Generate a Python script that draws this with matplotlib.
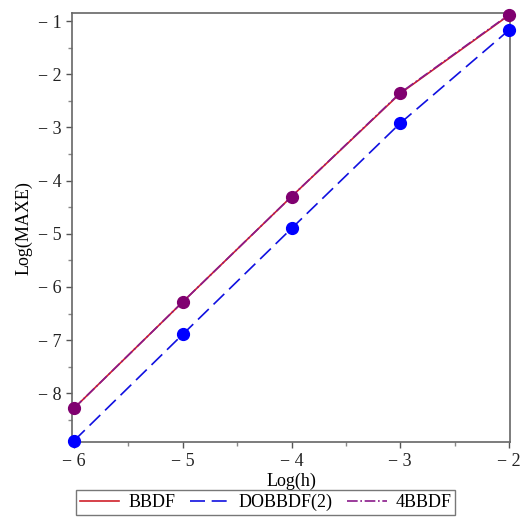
import matplotlib.pyplot as plt
from matplotlib.ticker import FuncFormatter, MultipleLocator

# Log(h) vs Log(MAXE) values
log_h = [-6, -5, -4, -3, -2]
bbdf = [-8.28, -6.28, -4.30, -2.36, -0.89]
dobbdf2 = [-8.89, -6.89, -4.90, -2.92, -1.17]
bbdf4 = [-8.28, -6.28, -4.30, -2.35, -0.88]

plt.rcParams["font.family"] = ["Liberation Serif", "DejaVu Serif"]

fig = plt.figure(figsize=(5.21, 5.24), dpi=100)
ax = fig.add_axes([0.138, 0.156, 0.841, 0.819])

ax.plot(log_h, bbdf, color="#d0202a", lw=1.2, label="BBDF", clip_on=False)
ax.plot(log_h, dobbdf2, color="#1010e0", lw=1.2, dashes=(9, 4),
        marker="o", ms=8.5, mfc="#0000ff", mec="#0000ff", label="DOBBDF(2)",
        clip_on=False, zorder=3)
ax.plot(log_h, bbdf4, color="#8a1a8a", lw=1.2, ls="-.",
        marker="o", ms=8.5, mfc="#800070", mec="#800070", label="4BBDF",
        clip_on=False, zorder=4)

ax.set_xlim(-6.02, -1.99)
ax.set_ylim(-8.92, -0.85)

ax.xaxis.set_major_locator(MultipleLocator(1))
ax.xaxis.set_minor_locator(MultipleLocator(0.5))
ax.yaxis.set_major_locator(MultipleLocator(1))
ax.yaxis.set_minor_locator(MultipleLocator(0.5))

fmt = FuncFormatter(lambda v, p: "\u2212 %d" % abs(v) if v < 0 else "%d" % v)
ax.xaxis.set_major_formatter(fmt)
ax.yaxis.set_major_formatter(fmt)

ax.tick_params(which="major", length=4, width=1, colors="#555555",
               labelcolor="#222222", labelsize=13, direction="out")
ax.tick_params(which="minor", length=3, width=1, colors="#888888")
for s in ax.spines.values():
    s.set_color("#666666")
    s.set_linewidth(1.2)

ax.set_xlabel("Log(h)", fontsize=13, labelpad=2)
ax.set_ylabel("Log(MAXE)", fontsize=13, labelpad=4)

fig.legend(loc="lower center", bbox_to_anchor=(0.51, 0.0), ncol=3,
           fontsize=13, frameon=True, fancybox=False, edgecolor="#555555",
           borderpad=0.2, handlelength=2.2, handletextpad=0.5,
           columnspacing=0.8, markerscale=0)

fig.savefig("out.png", dpi=100)
